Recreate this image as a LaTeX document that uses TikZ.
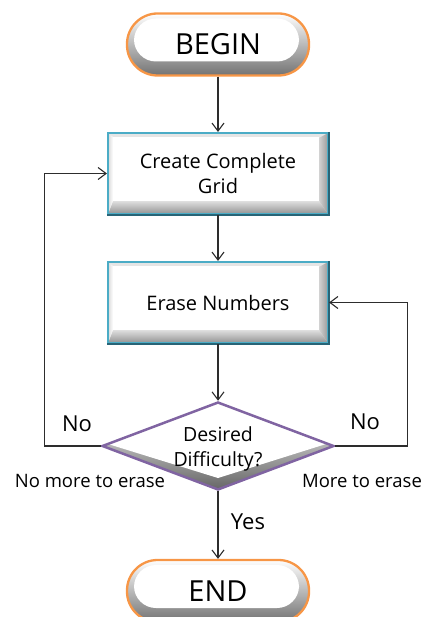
\documentclass[tikz,border=0pt]{standalone}
\usepackage{fontspec}
\setmainfont{Open Sans}
\usetikzlibrary{shapes.geometric,arrows.meta,calc}
\definecolor{pillorange}{RGB}{247,150,70}
\definecolor{boxteal}{RGB}{75,172,198}
\definecolor{boxdark}{RGB}{40,100,118}
\definecolor{diapurple}{RGB}{128,100,162}
\definecolor{linegray}{RGB}{45,45,45}
\tikzset{
  pill/.style={rectangle, rounded corners=30.5pt, draw=pillorange, line width=2.3pt,
    minimum width=182pt, minimum height=62pt, inner sep=0pt,
    font=\fontsize{29}{34}\selectfont,
    path picture={
      \shade[top color=white, bottom color=black!55]
        (path picture bounding box.south west) rectangle (path picture bounding box.north east);
      \fill[white, rounded corners=22pt]
        ($(path picture bounding box.north west)+(7,5)$) rectangle
        ($(path picture bounding box.south east)+(-10,-14)$);
    }},
  proc/.style={rectangle, draw=boxteal, line width=2.1pt,
    minimum width=220pt, minimum height=81pt, inner sep=0pt, align=center,
    font=\fontsize{20}{25}\selectfont,
    path picture={
      \fill[gray!20] (path picture bounding box.south west) rectangle (path picture bounding box.north east);
      \shade[left color=gray!35, right color=gray!80]
        ($(path picture bounding box.north east)+(-9,5)$) -- (path picture bounding box.north east)
        -- (path picture bounding box.south east) -- ($(path picture bounding box.south east)+(-9,-13)$) -- cycle;
      \shade[top color=gray!25, bottom color=gray!85]
        (path picture bounding box.south west) -- ($(path picture bounding box.south west)+(5,-13)$)
        -- ($(path picture bounding box.south east)+(-9,-13)$) -- (path picture bounding box.south east) -- cycle;
      \shade[left color=gray!30, right color=white]
        (path picture bounding box.north west) -- ($(path picture bounding box.north west)+(5,4)$)
        -- ($(path picture bounding box.south west)+(5,-13)$) -- (path picture bounding box.south west) -- cycle;
      \fill[white] ($(path picture bounding box.north west)+(5,4)$) rectangle
        ($(path picture bounding box.south east)+(-9,-13)$);
    }},
  decision/.style={diamond, draw=diapurple, line width=2.5pt, aspect=2.64,
    minimum width=232pt, minimum height=88pt, inner sep=0pt,
    path picture={
      \shade[top color=white, bottom color=black!60]
        (path picture bounding box.south west) rectangle (path picture bounding box.north east);
      \fill[white] ($(path picture bounding box.center)+(-110,-2)$)
        -- ($(path picture bounding box.center)+(0,-42)$)
        -- ($(path picture bounding box.center)+(108,-2)$)
        -- ($(path picture bounding box.center)+(0,32)$) -- cycle;
    }},
  conn/.style={draw=linegray, line width=1.1pt, -{Straight Barb[length=8pt,width=12pt]}},
  lab/.style={inner sep=0pt, font=\fontsize{18.5}{22}\selectfont},
  biglab/.style={inner sep=0pt, font=\fontsize{22}{26}\selectfont},
  dectext/.style={inner sep=0pt, align=center, font=\fontsize{19.5}{25}\selectfont}
}
\begin{document}
\begin{tikzpicture}[x=1pt,y=-1pt]
\useasboundingbox (0,0) rectangle (427,617);
\node[pill] (begin) at (218,44.5) {BEGIN};
\node[proc] (create) at (218,173.5) {Create Complete\\Grid};
\node[proc] (erase) at (218,302.5) {Erase Numbers};
\node[decision] (dec) at (218,446) {};
\node[dectext] (dectxt) at (218,449) {Desired\\Difficulty?};
\node[pill] (end) at (218,591) {END};
% darker lower/right edges of the boxes
\foreach \b in {create,erase}{
  \draw[boxdark, line width=2.1pt] (\b.north east) -- (\b.south east) -- (\b.south west);
}
\draw[conn] (begin.south) -- (create.north);
\draw[conn] (create.south) -- (erase.north);
\draw[conn] (erase.south) -- (dec.north);
\draw[conn] (dec.south) -- (end.north);
\draw[conn] (dec.west) -- ++(-56,0) |- (create.west);
\draw[conn] (dec.east) -- ++(72,0) |- (erase.east);
\node[biglab] (nol) at (77,424) {No};
\node[biglab] (nor) at (365,422) {No};
\node[biglab] (yes) at (248,522) {Yes};
\node[lab] (nomore) at (90,481) {No more to erase};
\node[lab] (more) at (362,481) {More to erase};
\end{tikzpicture}
\end{document}
